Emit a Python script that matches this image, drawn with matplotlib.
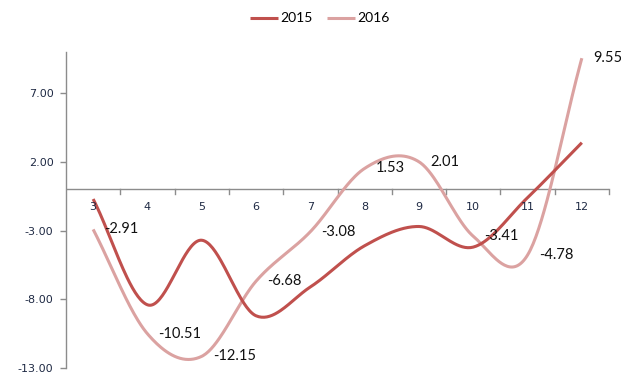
import numpy as np
import matplotlib
matplotlib.use("Agg")
import matplotlib.pyplot as plt

months = ["3", "4", "5", "6", "7", "8", "9", "10", "11", "12"]
y2015 = [-0.7, -8.4, -3.7, -9.2, -7.1, -4.1, -2.7, -4.2, -0.6, 3.4]
y2016 = [-2.91, -10.51, -12.15, -6.68, -3.08, 1.53, 2.01, -3.41, -4.78, 9.55]
yticks = [-13.00, -8.00, -3.00, 2.00, 7.00]

C2015 = "#C0504D"
C2016 = "#DBA2A1"

plt.rcParams["font.family"] = ["Lato", "DejaVu Sans"]


def smooth(xs, ys, n=40):
    """Catmull-Rom spline through the points (Excel-style smoothed line)."""
    xs = np.asarray(xs, float)
    ys = np.asarray(ys, float)
    px = np.concatenate([[2 * xs[0] - xs[1]], xs, [2 * xs[-1] - xs[-2]]])
    py = np.concatenate([[ys[0]], ys, [ys[-1]]])
    # end tangents: one-sided
    py[0] = ys[0] - (ys[1] - ys[0])
    py[-1] = ys[-1] + (ys[-1] - ys[-2])
    ox, oy = [], []
    for i in range(1, len(px) - 2):
        t = np.linspace(0, 1, n, endpoint=(i == len(px) - 3))
        p0, p1, p2, p3 = py[i - 1], py[i], py[i + 1], py[i + 2]
        m1 = (p2 - p0) / 2
        m2 = (p3 - p1) / 2
        h00 = 2 * t**3 - 3 * t**2 + 1
        h10 = t**3 - 2 * t**2 + t
        h01 = -2 * t**3 + 3 * t**2
        h11 = t**3 - t**2
        oy.append(h00 * p1 + h10 * m1 + h01 * p2 + h11 * m2)
        ox.append(px[i] + t * (px[i + 1] - px[i]))
    return np.concatenate(ox), np.concatenate(oy)


fig = plt.figure(figsize=(6.21, 3.76), dpi=100)
ax = fig.add_axes([66 / 621, 1 - 368 / 376, (609 - 66) / 621, (368 - 52) / 376])

x = np.arange(len(months))
sx, sy = smooth(x, y2015)
ax.plot(sx, sy, color=C2015, lw=2.2, solid_capstyle="butt", label="2015", zorder=3)
sx, sy = smooth(x, y2016)
ax.plot(sx, sy, color=C2016, lw=2.2, solid_capstyle="butt", label="2016", zorder=2)

for xi, v in zip(x, y2016):
    ax.annotate(f"{v:.2f}", (xi, v), xytext=(8, 0), textcoords="offset points",
                ha="left", va="center", fontsize=10.5, color="#111111", zorder=4)

TICK_FAMILY = "DejaVu Sans"
TICK_SIZE = 8
TICK_COLOR = "#1F2A44"

ax.set_xlim(-0.5, len(months) - 0.5)
ax.set_ylim(-13, 10)
ax.set_yticks(yticks)
ax.set_yticklabels([f"{v:.2f}" for v in yticks])
for lab in ax.get_yticklabels():
    lab.set_fontfamily(TICK_FAMILY)
    lab.set_fontsize(TICK_SIZE)
    lab.set_color(TICK_COLOR)

for s in ["top", "right", "bottom"]:
    ax.spines[s].set_visible(False)
ax.spines["left"].set_color("#8C8C8C")
ax.spines["left"].set_linewidth(1.0)
ax.tick_params(axis="y", length=4, width=1.0, color="#8C8C8C", pad=5)

# category axis drawn along zero
ax.axhline(0, color="#8C8C8C", lw=1.0, zorder=1)
ax.set_xticks([])
for b in np.arange(0.5, len(months), 1.0):
    ax.plot([b, b], [0, -0.35], color="#8C8C8C", lw=1.0, zorder=1, clip_on=False)
for xi, m in zip(x, months):
    ax.text(xi, -0.95, m, ha="center", va="top", color=TICK_COLOR,
            family=TICK_FAMILY, fontsize=TICK_SIZE)

fig.legend(loc="upper center", bbox_to_anchor=(0.515, 1.0), ncol=2, frameon=False,
           fontsize=10, handlelength=2.0, handletextpad=0.2, columnspacing=1.0)

fig.savefig("out.png", dpi=100)
